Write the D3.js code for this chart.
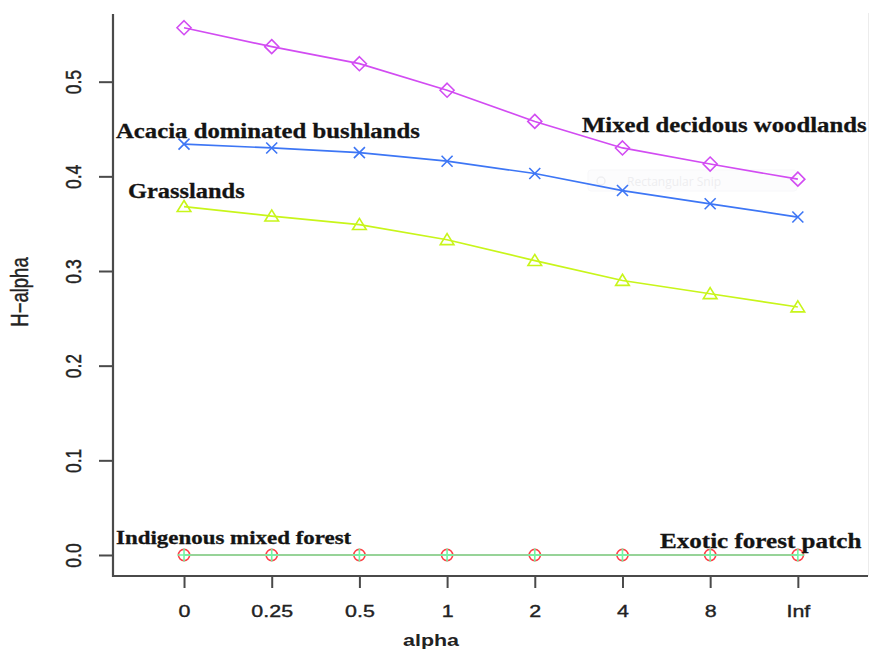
<!DOCTYPE html>
<html>
<head>
<meta charset="utf-8">
<script src="https://cdn.jsdelivr.net/npm/d3@7"></script>
<style>
  html, body { margin: 0; padding: 0; background: #fff; }
  svg { display: block; }
</style>
</head>
<body>
<svg id="chart" width="869" height="649"></svg>
<script>
// ---------- DATA ----------
const alphaLabels = ["0", "0.25", "0.5", "1", "2", "4", "8", "Inf"];
const yTicks = [0.0, 0.1, 0.2, 0.3, 0.4, 0.5];
const yTickLabels = ["0.0", "0.1", "0.2", "0.3", "0.4", "0.5"];

const indigenousMixedForest = [0, 0, 0, 0, 0, 0, 0, 0];
const grasslands           = [0.368, 0.358, 0.349, 0.333, 0.311, 0.290, 0.276, 0.262];
const exoticForestPatch    = [0, 0, 0, 0, 0, 0, 0, 0];
const acaciaBushlands      = [0.434, 0.430, 0.425, 0.416, 0.403, 0.385, 0.371, 0.357];
const mixedDecidous        = [0.557, 0.537, 0.519, 0.491, 0.458, 0.430, 0.413, 0.397];

const seriesNames = ["Indigenous mixed forest", "Grasslands", "Exotic forest patch",
                     "Acacia dominated bushlands", "Mixed decidous woodlands"];

// ---------- STYLE / LAYOUT ----------
const seriesStyle = [
  { values: indigenousMixedForest, color: "#ff4048", shape: "circle" },
  { values: grasslands,            color: "#c8f51a", shape: "triangle" },
  { values: exoticForestPatch,     color: "#74f5a4", shape: "plus" },
  { values: acaciaBushlands,       color: "#3d76f5", shape: "cross" },
  { values: mixedDecidous,         color: "#d24cf2", shape: "diamond" }
];
// label anchor positions and sizes (pixels, layout only)
const labelLayout = [
  { x: 116, y: 544, size: 18.5, sx: 1.24 },
  { x: 128, y: 198, size: 22, sx: 1.11 },
  { x: 660, y: 548, size: 22, sx: 1.14 },
  { x: 116, y: 138, size: 22, sx: 1.125 },
  { x: 582, y: 132, size: 22, sx: 1.125 }
];

const svg = d3.select("#chart");
const plot = { left: 113, right: 868, top: 14, bottom: 576 };
const SX = 1.3; // horizontal stretch of the original image

const x = d3.scaleLinear().domain([0.19, 8.8]).range([plot.left, plot.right]);
const y = d3.scaleLinear().domain([-0.0222, 0.5715]).range([plot.bottom, plot.top]);
const xi = i => x(i + 1);

// faint right border
svg.append("line")
  .attr("x1", 868.5).attr("x2", 868.5).attr("y1", 13).attr("y2", plot.bottom)
  .attr("stroke", "#ececec").attr("stroke-width", 1);

// faint watermark
const wm = svg.append("g").attr("opacity", 0.55);
wm.append("rect").attr("x", 588).attr("y", 170).attr("width", 209).attr("height", 21)
  .attr("rx", 3).attr("fill", "#fbfbfd").attr("stroke", "#f3f3f6");
wm.append("circle").attr("cx", 601).attr("cy", 181).attr("r", 4)
  .attr("fill", "none").attr("stroke", "#e2e2e6").attr("stroke-width", 1.5);
wm.append("text").attr("x", 627).attr("y", 185.5)
  .attr("font-family", "'Open Sans', 'Liberation Sans', sans-serif")
  .attr("font-size", 12).attr("fill", "#e0e0e4").text("Rectangular Snip");

// ---------- AXES ----------
const axisColor = "#4a4a4a";
const tickFont = sel => sel
  .attr("font-family", "'Liberation Sans', Arial, sans-serif")
  .attr("fill", "#222").attr("stroke", "#222").attr("stroke-width", 0.35);

const xAxis = d3.axisBottom(x)
  .tickValues(alphaLabels.map((d, i) => i + 1))
  .tickFormat((d, i) => alphaLabels[i])
  .tickSizeOuter(0).tickSizeInner(12).tickPadding(0);
const gx = svg.append("g").attr("transform", `translate(0,${plot.bottom})`).call(xAxis);
gx.select(".domain").remove();
gx.selectAll(".tick line").attr("stroke", axisColor).attr("stroke-width", 2);
gx.selectAll(".tick text").remove();
gx.selectAll(".tick").append("text")
  .attr("transform", `translate(0,40.5) scale(${SX},1)`)
  .attr("text-anchor", "middle")
  .attr("font-size", 16.5)
  .call(tickFont)
  .text((d, i) => alphaLabels[i]);

const yAxis = d3.axisLeft(y).tickValues(yTicks)
  .tickFormat((d, i) => yTickLabels[i])
  .tickSizeOuter(0).tickSizeInner(14).tickPadding(0);
const gy = svg.append("g").attr("transform", `translate(${plot.left},0)`).call(yAxis);
gy.select(".domain").remove();
gy.selectAll(".tick line").attr("stroke", axisColor).attr("stroke-width", 2);
gy.selectAll(".tick text").remove();
gy.selectAll(".tick").append("text")
  .attr("transform", `translate(-32,0) scale(${SX},1) rotate(-90)`)
  .attr("text-anchor", "middle")
  .attr("font-size", 17.5)
  .call(tickFont)
  .text((d, i) => yTickLabels[i]);

// axis lines (L shape)
svg.append("path")
  .attr("d", `M${plot.left},${plot.top} V${plot.bottom} H${plot.right}`)
  .attr("fill", "none").attr("stroke", axisColor).attr("stroke-width", 2.2);

// axis titles
svg.append("text")
  .attr("transform", `translate(431,646) scale(${SX},1)`)
  .attr("text-anchor", "middle")
  .attr("font-family", "'Liberation Sans', Arial, sans-serif")
  .attr("font-weight", "bold")
  .attr("font-size", 16.5).attr("fill", "#222").text("alpha");
svg.append("text")
  .attr("transform", `translate(27.5,292) scale(${SX},1) rotate(-90)`)
  .attr("text-anchor", "middle")
  .attr("font-size", 18.5)
  .call(tickFont)
  .text("H\u2212alpha");

// ---------- SERIES ----------
const line = d3.line().x((d, i) => xi(i)).y(d => y(d));
const gSeries = svg.append("g");

function drawMarker(g, shape, color) {
  const s = 6.5;
  const st = p => p.attr("fill", "none").attr("stroke", color).attr("stroke-width", 1.6);
  if (shape === "circle") {
    g.append("circle").attr("r", 5.6).call(st);
  } else if (shape === "triangle") {
    g.append("path").attr("d", `M0,${-s * 0.95} L${s * 1.05},${s * 0.75} L${-s * 1.05},${s * 0.75} Z`).call(st);
  } else if (shape === "plus") {
    g.append("path").attr("d", `M0,${-s} V${s} M${-s},0 H${s}`).call(st);
  } else if (shape === "cross") {
    const c = 5.5;
    g.append("path").attr("d", `M${-c},${-c} L${c},${c} M${-c},${c} L${c},${-c}`).call(st);
  } else if (shape === "diamond") {
    const d = 7;
    g.append("path").attr("d", `M0,${-d} L${d},0 L0,${d} L${-d},0 Z`).call(st);
  }
}

seriesStyle.forEach(sr => {
  gSeries.append("path").datum(sr.values)
    .attr("d", line).attr("fill", "none")
    .attr("stroke", sr.color).attr("stroke-width", 1.7);
  sr.values.forEach((v, i) => {
    const g = gSeries.append("g").attr("transform", `translate(${xi(i)},${y(v)})`);
    drawMarker(g, sr.shape, sr.color);
  });
});

// ---------- SERIES LABELS ----------
seriesNames.forEach((name, k) => {
  const p = labelLayout[k];
  svg.append("text")
    .attr("transform", `translate(${p.x},${p.y}) scale(${p.sx},1)`)
    .attr("font-family", "'Liberation Serif', 'Times New Roman', serif")
    .attr("font-weight", "bold")
    .attr("font-size", p.size).attr("fill", "#141414")
    .attr("stroke", "#141414").attr("stroke-width", 0.3)
    .text(name);
});
</script>
</body>
</html>
